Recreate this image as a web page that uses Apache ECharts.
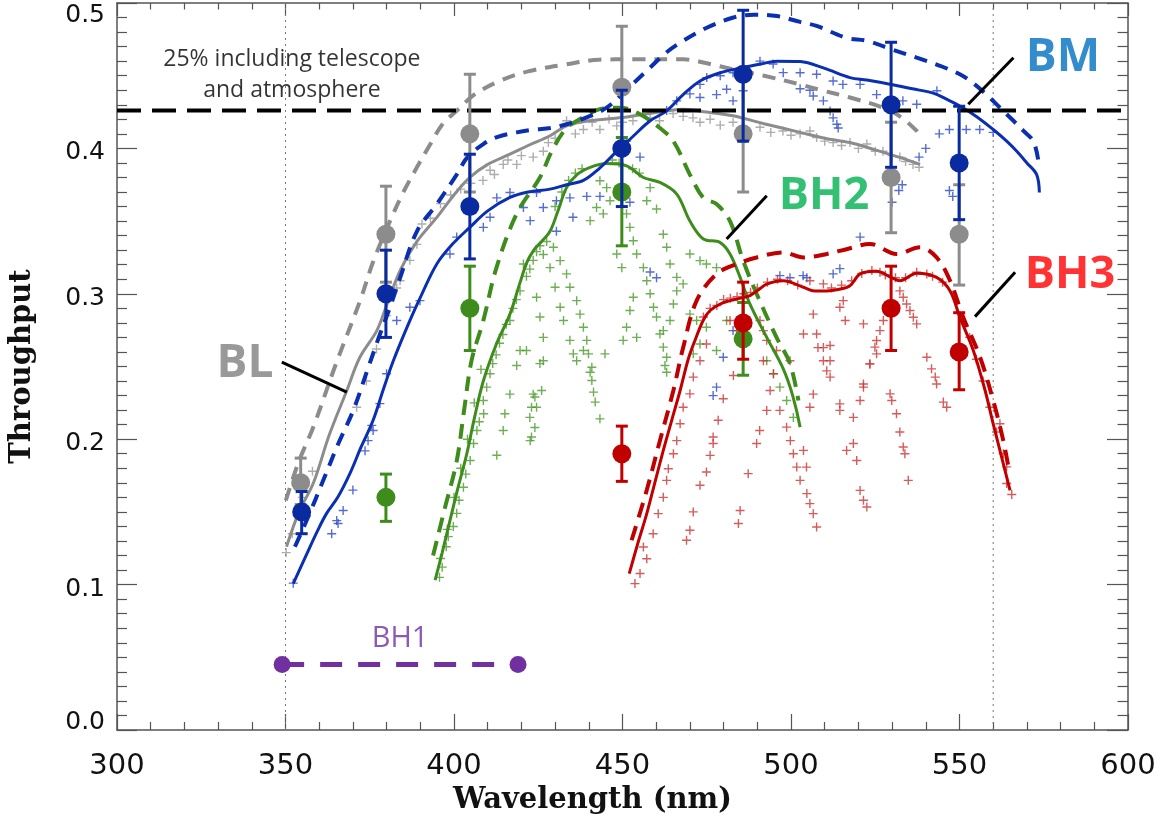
<!DOCTYPE html>
<html><head><meta charset="utf-8">
<script src="https://cdn.jsdelivr.net/npm/echarts@6/dist/echarts.min.js"></script>
<style>html,body{margin:0;padding:0;background:#fff}#c{width:1164px;height:825px}</style>
</head><body><div id="c"></div>
<script>
// ---------- data ----------
const xTicks = [300, 350, 400, 450, 500, 550, 600];
const yTicks = [0.0, 0.1, 0.2, 0.3, 0.4, 0.5];
const goalLevel = 0.426;          // 25% incl. telescope & atmosphere
const bh1Range = [[349, 0.045], [419, 0.045]];
const guideWavelengths = [350, 560];

const grayDash = [[350.1,0.158],[354,0.185],[358.2,0.208],[365,0.252],[372.1,0.295],[376,0.322],[381,0.350],[385,0.370],[389,0.387],[393,0.403],[396.7,0.417],[400.8,0.4258],[406,0.437],[413.6,0.4464],[422,0.453],[433.4,0.4578],[443,0.461],[453.1,0.4613],[468,0.4613],[476,0.458],[482.8,0.4544],[492,0.450],[502.7,0.444],[509,0.440],[517.5,0.435],[527.3,0.428],[532.3,0.422],[537.3,0.412],[538.3,0.4075]];
const graySolid = [[350.3,0.126],[354,0.150],[358.3,0.170],[363,0.203],[368.2,0.2335],[372,0.256],[377.1,0.2747],[380,0.292],[384,0.316],[389,0.336],[394.9,0.3526],[400,0.368],[404.7,0.380],[410,0.389],[416.6,0.396],[422,0.402],[428.5,0.4087],[433.4,0.4155],[440,0.419],[449.8,0.4212],[458,0.424],[468,0.427],[475,0.425],[482.8,0.4224],[492,0.417],[502.7,0.411],[510,0.407],[517.5,0.404],[525,0.399],[532,0.394],[538.3,0.389]];
const blueSolid = [[352.3,0.1007],[356.8,0.1236],[359.5,0.137],[362.2,0.149],[365.5,0.160],[369.1,0.1763],[372.5,0.195],[376,0.213],[379,0.234],[382,0.254],[386.9,0.2816],[390.5,0.300],[394.9,0.3205],[399.5,0.334],[404.7,0.3457],[410,0.357],[416.6,0.3663],[422,0.370],[428.5,0.372],[433.4,0.375],[438.4,0.378],[443,0.386],[448.3,0.398],[453,0.408],[458.2,0.419],[463.1,0.4258],[468,0.437],[473,0.4464],[479,0.452],[485.8,0.4556],[491,0.458],[495.8,0.460],[502.7,0.4597],[510,0.455],[517.5,0.4487],[522.5,0.447],[529.7,0.444],[536,0.441],[542.2,0.438],[546,0.434],[550.1,0.4292],[555,0.422],[560,0.413],[564,0.405],[567,0.398],[570,0.390],[572.9,0.382],[573.7,0.3697]];
const blueDash = [[352.8,0.126],[357,0.148],[361.2,0.1717],[365.5,0.196],[370.1,0.2198],[374.6,0.2495],[378,0.272],[381,0.2907],[384,0.311],[389,0.343],[394.9,0.3617],[400.8,0.382],[404,0.394],[408.7,0.403],[413,0.408],[418.6,0.411],[424,0.413],[428.5,0.414],[433.4,0.4166],[439,0.421],[445.3,0.428],[451,0.440],[458.2,0.4556],[463,0.466],[468,0.474],[475,0.483],[482.9,0.490],[489,0.492],[495.8,0.491],[502.7,0.487],[507.6,0.4842],[516.5,0.476],[522.5,0.474],[530,0.468],[537.3,0.4624],[544,0.457],[550.1,0.451],[554,0.445],[558,0.437],[562,0.428],[566,0.419],[569,0.412],[571.9,0.405],[573.4,0.3915]];
const greenSolid = [[394.4,0.103],[396.5,0.122],[398.8,0.144],[401,0.165],[403.8,0.190],[406,0.214],[408.7,0.240],[412.5,0.265],[416.6,0.286],[419.5,0.307],[421.7,0.322],[424,0.331],[426,0.336],[428.5,0.343],[431,0.358],[433.4,0.373],[436.5,0.382],[440.4,0.387],[445.3,0.3896],[451.2,0.388],[456.2,0.380],[461.1,0.3766],[466.1,0.3686],[470,0.350],[474,0.3377],[478.9,0.3354],[481.9,0.3274],[484.9,0.3113],[487.8,0.293],[492.8,0.270],[497.7,0.2484],[500.5,0.230],[502.7,0.2083]];
const greenDash = [[393.8,0.120],[397,0.150],[400.8,0.185],[403,0.220],[405.2,0.254],[408.7,0.2816],[412.6,0.318],[418.6,0.355],[425.5,0.380],[429,0.398],[433.4,0.414],[438,0.421],[443.3,0.427],[449.3,0.428],[455.2,0.4235],[461.1,0.414],[465.1,0.405],[470,0.382],[474,0.366],[477.9,0.3617],[481.9,0.350],[485.8,0.3228],[489.8,0.300],[495.7,0.270],[499.7,0.252],[502.2,0.2266]];
const redSolid = [[452,0.1076],[454.5,0.128],[457.2,0.1488],[459.7,0.171],[462.1,0.1923],[464.6,0.213],[467.1,0.2335],[469.5,0.255],[471.5,0.2679],[474,0.282],[476,0.2885],[479,0.293],[481.9,0.2953],[485,0.297],[487.8,0.2988],[490.5,0.303],[492.8,0.3067],[497.7,0.309],[503.7,0.3045],[507,0.302],[510.6,0.302],[514,0.303],[517.5,0.3056],[520.5,0.3137],[525.4,0.3155],[529.7,0.3113],[532.3,0.309],[537.3,0.3142],[543.2,0.3113],[547.2,0.302],[550.1,0.2839],[554.1,0.261],[557.6,0.2335],[560,0.2106],[562.5,0.1877],[565,0.1648]];
const redDash = [[452.7,0.1305],[457.2,0.165],[461.1,0.199],[465.1,0.2335],[468,0.263],[472,0.2953],[477.9,0.3136],[483.9,0.3205],[489.8,0.325],[497.7,0.3285],[503.7,0.325],[510.6,0.3274],[517,0.331],[523.4,0.3343],[531.3,0.3274],[538.3,0.332],[543.2,0.325],[547.2,0.309],[551.1,0.2839],[556.1,0.2564],[560,0.2266],[563,0.199],[564.5,0.181]];

const grayCross = [[350.2,0.122],[352,0.135],[355,0.160],[358,0.178],[371.1,0.222],[374,0.240],[377,0.262],[380,0.285],[383,0.304],[384,0.309],[386.9,0.323],[389,0.334],[390.5,0.348],[393,0.352],[396,0.362],[399,0.368],[402,0.372],[405,0.376],[408.6,0.378],[410.7,0.385],[412,0.382],[414.6,0.389],[416,0.392],[418.6,0.389],[420,0.395],[423.5,0.394],[426.5,0.398],[428,0.404],[430,0.407],[433.4,0.419],[436,0.410],[438.4,0.413],[441,0.418],[443.3,0.413],[446,0.420],[448.3,0.4155],[450,0.418],[453.1,0.419],[456,0.424],[458.2,0.421],[461,0.419],[465,0.424],[468,0.422],[470.9,0.421],[473,0.418],[476,0.420],[479,0.416],[482.8,0.418],[486,0.413],[490.8,0.4145],[494,0.411],[497.6,0.412],[500,0.409],[502.7,0.41],[505.6,0.412],[507.6,0.4075],[510,0.405],[512.5,0.404],[515,0.402],[517.5,0.404],[520,0.400],[522.5,0.403],[525,0.398],[527.3,0.398],[530,0.395],[532.3,0.394],[534,0.391],[536.2,0.389],[538,0.387]];
const blueCross = [[352.3,0.101],[363.7,0.135],[365.2,0.144],[365.6,0.142],[367.1,0.151],[370,0.165],[373.6,0.192],[374.5,0.199],[375.6,0.2095],[376,0.206],[378,0.2245],[380,0.245],[383,0.2816],[386.9,0.2907],[389.9,0.2953],[398.8,0.3274],[400.8,0.339],[408.7,0.3457],[410.7,0.3526],[412.7,0.366],[416.6,0.3697],[420.6,0.3594],[422.6,0.3503],[426.5,0.3594],[424.5,0.3697],[430.4,0.364],[434.4,0.366],[439.4,0.367],[443.3,0.367],[452.2,0.363],[435.3,0.3526],[430.4,0.343],[458.2,0.315],[460.1,0.311],[451.2,0.405],[455.2,0.394],[463.1,0.426],[466.1,0.4327],[470,0.4375],[473,0.444],[475,0.4487],[479,0.45],[482.8,0.452],[473,0.435],[477.9,0.437],[480.9,0.4407],[482.8,0.4327],[485.8,0.4396],[490.8,0.460],[494.7,0.458],[497.7,0.4521],[502.7,0.452],[507.6,0.451],[512.5,0.4464],[515.4,0.444],[502.7,0.441],[506.6,0.436],[509.6,0.4327],[511.6,0.4258],[513.6,0.4166],[505.6,0.44],[512.5,0.421],[514,0.414],[520.5,0.444],[525.4,0.437],[533.2,0.4327],[537.3,0.4304],[543.3,0.4396],[538,0.394],[540,0.40],[544,0.41],[547,0.413],[552,0.413],[556,0.413],[560,0.411],[533,0.375],[532,0.371],[530,0.363],[547,0.371],[548,0.367],[496.7,0.3125],[499.7,0.311],[503.6,0.3125],[512.5,0.3137],[514.5,0.3173],[504.7,0.311],[520.5,0.339],[479.9,0.2564],[477.9,0.2358],[476.9,0.23],[482.8,0.2747]];
const greenCross = [[395.7,0.105],[396.5,0.112],[397.7,0.126],[398.3,0.133],[399.8,0.14],[400.8,0.149],[401.5,0.158],[402.8,0.167],[403.5,0.176],[404.8,0.1854],[405.8,0.197],[406.8,0.206],[407.5,0.212],[408.8,0.2175],[408.7,0.2266],[409.7,0.2358],[410.7,0.245],[411.5,0.252],[412.5,0.258],[413.5,0.266],[414.5,0.272],[415.5,0.279],[416.6,0.2816],[417.5,0.290],[418.5,0.296],[419.6,0.302],[420.6,0.3205],[421.5,0.312],[422.5,0.317],[423.5,0.323],[424.5,0.329],[426.5,0.327],[425.5,0.333],[427.5,0.336],[396,0.118],[398,0.138],[400,0.160],[402,0.180],[404,0.200],[406,0.225],[408,0.248],[412.7,0.189],[414.6,0.206],[415.1,0.2175],[416.6,0.231],[418.6,0.2507],[422.6,0.199],[423,0.2015],[424,0.208],[422.5,0.215],[423,0.222],[424.5,0.222],[424,0.229],[423.5,0.231],[426,0.2335],[425.5,0.252],[424.5,0.2976],[425.5,0.284],[426.5,0.270],[426.5,0.254],[421.5,0.261],[419.6,0.261],[429.5,0.332],[431.5,0.3228],[433.4,0.3137],[434.4,0.3045],[436.4,0.2953],[437.4,0.286],[438.4,0.277],[439.4,0.268],[439.9,0.2587],[440.9,0.2495],[428.5,0.318],[430,0.3045],[431.5,0.2907],[432.5,0.2816],[434.4,0.268],[435.4,0.2587],[436.4,0.254],[443.3,0.3777],[445.3,0.373],[446.3,0.364],[442.3,0.3594],[444.3,0.355],[440.4,0.3503],[451.2,0.355],[452.2,0.3457],[453.2,0.3365],[454.2,0.3274],[456.2,0.318],[457.2,0.309],[458.2,0.30],[459.2,0.2907],[460.1,0.284],[461.1,0.2724],[462.1,0.2633],[453.2,0.2976],[452.2,0.2885],[451.2,0.277],[454.2,0.270],[450.2,0.268],[449.8,0.318],[448.3,0.3274],[458.2,0.373],[457.2,0.364],[460.1,0.3583],[462.1,0.341],[463.1,0.332],[464.1,0.3205],[466.1,0.3113],[470,0.3274],[473,0.3228],[474.9,0.3205],[477.9,0.318],[466.1,0.302],[465.1,0.293],[464.1,0.2816],[462.1,0.2747],[468,0.3068],[470,0.286],[472,0.2816],[474.9,0.277],[473,0.2655],[477.9,0.261],[480.9,0.2816],[471,0.2587],[438.4,0.261],[440.4,0.246],[440.9,0.2404],[441.4,0.2324],[441.9,0.2255],[443.3,0.214],[444.8,0.2587],[463.1,0.2564],[462.6,0.2507],[463.1,0.246],[492.8,0.254],[494.8,0.245],[496.7,0.2358],[498.7,0.2266],[500.7,0.215],[430,0.36],[432,0.37],[434,0.378],[436,0.383],[438,0.386],[447,0.392],[449,0.39],[453,0.386],[455,0.383]];
const redCross = [[453.7,0.1007],[455.2,0.1076],[457.2,0.1178],[456.2,0.1259],[459.1,0.135],[460.6,0.1488],[462.1,0.160],[463.1,0.1717],[463.6,0.1797],[465.1,0.190],[466.1,0.199],[467.1,0.2106],[468,0.222],[470,0.2312],[471,0.2427],[473,0.254],[474.9,0.2655],[469,0.1305],[470,0.1374],[471,0.150],[473,0.1683],[474.9,0.1774],[476,0.1889],[476.9,0.2015],[476.9,0.197],[478.4,0.213],[479.9,0.2278],[482.9,0.2438],[484.4,0.142],[484.9,0.151],[487.3,0.1763],[489.8,0.197],[490.7,0.206],[492.8,0.2198],[493.8,0.2335],[494.8,0.245],[491.8,0.254],[496.7,0.2198],[498.7,0.2083],[499.8,0.199],[500.7,0.190],[501.7,0.1808],[502.7,0.1717],[504.7,0.1626],[505.6,0.1557],[506.6,0.1488],[507.6,0.1396],[503.7,0.1923],[504.6,0.1808],[508,0.263],[509.6,0.254],[510.6,0.247],[511.6,0.2427],[506.6,0.231],[505.6,0.222],[514.5,0.2243],[514.5,0.2198],[518.5,0.215],[516.5,0.1923],[518.5,0.197],[519.5,0.1854],[520.5,0.1648],[521.5,0.158],[522.5,0.1534],[521.5,0.238],[520.5,0.2266],[523.4,0.2518],[525.4,0.2587],[511.6,0.2644],[532.3,0.302],[533.3,0.2976],[534.3,0.293],[535.3,0.2885],[536.3,0.2839],[537.3,0.2793],[527.4,0.2816],[526.4,0.2747],[525.4,0.2679],[524.9,0.2633],[523.4,0.2518],[521.5,0.2793],[540.3,0.2564],[541.7,0.2484],[542.8,0.2427],[543.2,0.238],[545.2,0.2255],[546.2,0.222],[529.4,0.2312],[529.9,0.2266],[531.3,0.2175],[532.3,0.205],[533.3,0.1946],[533.8,0.190],[534.8,0.1717],[521.5,0.2358],[562,0.2106],[563,0.190],[564,0.181],[564,0.1695],[565.5,0.162],[553,0.27],[555,0.255],[557,0.24],[559,0.222],[561,0.205],[481.9,0.2816],[483.9,0.2747],[490.8,0.2816],[491.8,0.2747],[492.8,0.268],[495.7,0.261],[499.7,0.254],[503.7,0.2724],[506.6,0.286],[507.6,0.2724],[509.6,0.263],[514.5,0.2907],[515.5,0.2953],[516.1,0.2816],[511.6,0.254],[474,0.284],[476,0.290],[478,0.292],[480,0.296],[482,0.297],[484,0.298],[486,0.300],[488,0.301],[490,0.304],[493,0.308],[496,0.310],[499,0.309],[502,0.306],[505.6,0.309],[509.6,0.3068],[512,0.304],[515,0.306],[518,0.309],[521,0.314],[524,0.316],[526.4,0.3148],[528,0.313],[531,0.311],[534,0.311],[537.3,0.3148],[540.3,0.3137],[542,0.312],[545,0.308]];

// measured points: [wavelength, throughput, low, high]
const grayPts  = [[354.5,0.170,0.155,0.187],[379.8,0.341,0.308,0.374],[404.7,0.410,0.370,0.451],[449.8,0.442,0.400,0.484],[485.8,0.410,0.370,0.450],[529.7,0.380,0.342,0.418],[549.9,0.341,0.306,0.375]];
const greenPts = [[379.8,0.160,0.1435,0.176],[404.7,0.290,0.261,0.319],[449.8,0.370,0.333,0.4075],[485.8,0.269,0.244,0.294]];
const redPts   = [[449.8,0.190,0.171,0.209],[485.8,0.280,0.255,0.308],[529.7,0.290,0.261,0.319],[549.9,0.260,0.234,0.287]];
const bluePts  = [[354.8,0.150,0.135,0.164],[379.8,0.300,0.270,0.330],[404.7,0.360,0.324,0.396],[449.8,0.400,0.360,0.440],[485.8,0.451,0.405,0.495],[529.7,0.430,0.387,0.473],[549.9,0.390,0.351,0.429]];

// pointer lines from labels to curves
const pointerBL  = [[348.9,0.253],[368.2,0.2323]];
const pointerBM  = [[566.0,0.4624],[552.6,0.4304]];
const pointerBH2 = [[492.8,0.3674],[480.9,0.3377]];
const pointerBH3 = [[566.5,0.3148],[554.6,0.2843]];

const labelTexts = ['BL', 'BM', 'BH2', 'BH3', 'BH1', '25% including telescope\nand atmosphere'];
const labelAnchors = [[338,0.252],[580.7,0.462],[509.8,0.3668],[582.8,0.3125],[384,0.0625],[351.9,0.4505]];

// ---------- chart ----------
const C = {gray:'#8c8c8c', blue:'#0a2fb0', green:'#3d8c1c', red:'#c00000', purple:'#7030a0'};
const plus = 'path://M3.8,0H5.2V3.8H9V5.2H5.2V9H3.8V5.2H0V3.8H3.8Z';
const chart = echarts.init(document.getElementById('c'), null, {renderer:'canvas'});

function lineS(data, color, width, dash, z) {
  return {type:'line', data, showSymbol:false, symbol:'none', smooth:0.35, z:z||3, silent:true,
    lineStyle:{color, width, type: dash || 'solid', cap:'butt'}};
}
function crossS(data, color) {
  return {type:'scatter', data, symbol:plus, symbolSize:9, z:2, silent:true, itemStyle:{color}};
}
function errS(data, color) {
  return {type:'custom', data, z:6, silent:true, encode:{x:0, y:[1,2,3]},
    itemStyle:{color},
    renderItem(p, api) {
      const x = api.value(0);
      const c = api.coord([x, api.value(1)]);
      const lo = api.coord([x, api.value(2)]);
      const hi = api.coord([x, api.value(3)]);
      const w = 6, st = {stroke:color, lineWidth:3};
      return {type:'group', children:[
        {type:'line', shape:{x1:c[0], y1:hi[1], x2:c[0], y2:lo[1]}, style:st},
        {type:'line', shape:{x1:c[0]-w, y1:hi[1], x2:c[0]+w, y2:hi[1]}, style:st},
        {type:'line', shape:{x1:c[0]-w, y1:lo[1], x2:c[0]+w, y2:lo[1]}, style:st},
        {type:'circle', shape:{cx:c[0], cy:c[1], r:9.5}, style:{fill:color}}
      ]};
    }};
}
function textS(i, color, size, weight, lh) {
  return {type:'scatter', data:[{value:labelAnchors[i], name:labelTexts[i]}], symbolSize:1, z:8, silent:true,
    itemStyle:{color:'rgba(0,0,0,0)'},
    label:{show:true, position:'inside', formatter:'{b}', color, fontSize:size, fontWeight:weight,
      fontFamily:'"Open Sans", sans-serif', align:'center', verticalAlign:'middle', lineHeight:lh || Math.round(size*1.2)}};
}

const axisCol = '#555';
const tickAxis = (pos, show, len) => ({
  type:'value', min:xTicks[0], max:xTicks[xTicks.length-1], interval:50, position:pos,
  axisLine:{show:true, onZero:false, lineStyle:{color:axisCol, width:1.5}},
  axisTick:{show:true, inside:true, length:len, lineStyle:{color:axisCol, width:1.2}},
  minorTick:{show:true, splitNumber:5, length:len/2, lineStyle:{color:axisCol, width:1.2}},
  splitLine:{show:false},
  axisLabel:{show:show, fontFamily:'"DejaVu Sans"', fontSize:29, color:'#111', margin:22}
});
const yFont = {fontFamily:'"DejaVu Sans"', fontSize:25, color:'#111'};
const yAxisDef = (pos, show, len) => ({
  type:'value', min:yTicks[0], max:yTicks[yTicks.length-1], interval:0.1, position:pos,
  axisLine:{show:true, onZero:false, lineStyle:{color:axisCol, width:1.5}},
  axisTick:{show:true, inside:true, length:len, lineStyle:{color:axisCol, width:1.2}},
  minorTick:{show:true, splitNumber:10, length:len/2, lineStyle:{color:axisCol, width:1.2}},
  splitLine:{show:false},
  axisLabel:{show:show, ...yFont, margin:12,
    formatter: v => {
      const s = v.toFixed(1);
      if (Math.abs(v - 0.5) < 1e-9) return '{t|' + s + '}';
      if (Math.abs(v) < 1e-9) return '{b|' + s + '}';
      return '{m|' + s + '}';
    },
    rich:{
      t:{...yFont, padding:[24,0,0,0]},
      m:{...yFont, padding:[9,0,0,0]},
      b:{...yFont, padding:[0,0,16,0]}
    }}
});

const xb = tickAxis('bottom', true, 16);
xb.name = 'Wavelength (nm)'; xb.nameLocation = 'middle'; xb.nameGap = 54;
xb.nameTextStyle = {fontFamily:'"DejaVu Serif"', fontWeight:'bold', fontSize:29, color:'#111', padding:[0,60,0,0]};
const xt = tickAxis('top', false, 13);
const yl = yAxisDef('left', true, 20);
yl.name = 'Throughput'; yl.nameLocation = 'middle'; yl.nameGap = 80;
yl.nameTextStyle = {fontFamily:'"DejaVu Serif"', fontWeight:'bold', fontSize:29, color:'#111'};
const yr = yAxisDef('right', false, 21);

const vGuides = guideWavelengths.map(w => ({type:'line', data:[[w,0],[w,0.5]], symbol:'none', silent:true, z:1,
  lineStyle:{color:'#777', width:1, type:[2,4]}}));

const option = {
  animation:false,
  backgroundColor:'#fff',
  grid:{left:117, right:36, top:3, bottom:95, containLabel:false, outerBoundsMode:'none'},
  xAxis:[xb, xt],
  yAxis:[yl, yr],
  series:[
    ...vGuides,
    crossS(grayCross, '#999999'),
    crossS(blueCross, '#2a48c8'),
    crossS(greenCross, '#4a9a2a'),
    crossS(redCross, '#cc3333'),
    {type:'line', data:[[300,goalLevel],[600,goalLevel]], symbol:'none', silent:true, z:4,
      lineStyle:{color:'#000', width:4, type:[24,11]}},
    lineS(grayDash, C.gray, 4, [13,9]),
    lineS(graySolid, C.gray, 3),
    lineS(greenDash, C.green, 4, [15,9]),
    lineS(greenSolid, C.green, 3),
    lineS(redDash, C.red, 4, [15,9]),
    lineS(redSolid, C.red, 3),
    lineS(blueDash, C.blue, 4, [13,9]),
    lineS(blueSolid, C.blue, 3),
    {type:'line', data:bh1Range, symbol:'circle', symbolSize:17, silent:true, z:5,
      itemStyle:{color:C.purple}, lineStyle:{color:C.purple, width:5, type:[22,16]}},
    ...[pointerBL, pointerBM, pointerBH2, pointerBH3].map(d => ({type:'line', data:d, symbol:'none', silent:true, z:7,
      lineStyle:{color:'#000', width:3}})),
    errS(grayPts, C.gray),
    errS(greenPts, C.green),
    errS(redPts, C.red),
    errS(bluePts, '#0a2aa0'),
    textS(0, '#7f7f7f', 46, 'bold'),
    textS(1, '#0070c0', 46, 'bold'),
    textS(2, '#00b050', 45, 'bold'),
    textS(3, '#ff0000', 45, 'bold'),
    textS(4, '#7030a0', 29, 'normal'),
    textS(5, '#000', 23, 'normal', 31)
  ]
};
chart.setOption(option);
</script></body></html>
